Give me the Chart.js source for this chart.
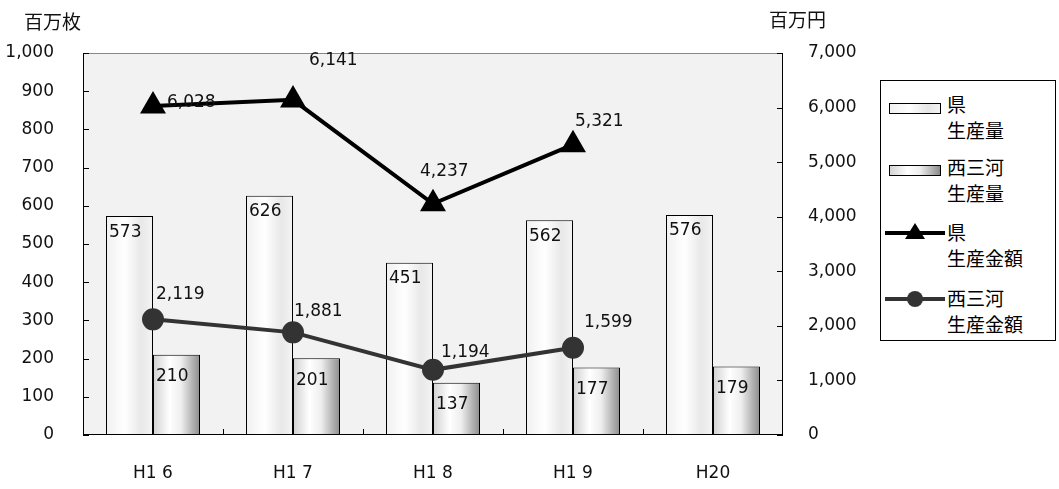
<!DOCTYPE html>
<html>
<head>
    <meta charset="utf-8">
    <title>生産量・生産金額</title>
    <script src="https://cdn.jsdelivr.net/npm/chart.js"></script>
    <style>
        body { margin: 0; background: #fff; }
        #wrap { position: relative; width: 1059px; height: 489px; }
        .ttl { position: absolute; font-family: "Noto Sans CJK JP"; font-size: 19px; color: #111; line-height: 1; }
        #legend { position: absolute; left: 880px; top: 80px; width: 174px; height: 259px;
                  border: 1px solid #000; background: #fff; font-family: "Noto Sans CJK JP"; font-size: 19px; color: #000; }
        .item { position: absolute; left: 66px; line-height: 26px; }
        .sw { position: absolute; left: 8px; width: 50px; height: 9px; border: 1px solid #000; }
        .ln { position: absolute; left: 4px; width: 60px; height: 4px; }
    </style>
</head>
<body>
<div id="wrap">
    <canvas id="chart" width="1059" height="489"></canvas>
    <div class="ttl" style="left:24px; top:11px;">百万枚</div>
    <div class="ttl" style="left:769px; top:9px;">百万円</div>
    <div id="legend">
        <div class="sw" style="top:22px; background:linear-gradient(90deg,#f0f0f0,#fff 40%,#e6e6e6 75%,#f2f2f2);"></div>
        <div class="item" style="top:10px;">県<br>生産量</div>
        <div class="sw" style="top:84px; background:linear-gradient(90deg,#d4d4d4,#fff 35%,#eee 60%,#8a8a8a);"></div>
        <div class="item" style="top:73px;">西三河<br>生産量</div>
        <div class="ln" style="top:150px; background:#000;"></div>
        <svg style="position:absolute; left:24px; top:142px;" width="20" height="16"><polygon points="10,0 20,16 0,16" fill="#000"/></svg>
        <div class="item" style="top:138px;">県<br>生産金額</div>
        <div class="ln" style="top:216px; background:#333;"></div>
        <svg style="position:absolute; left:25px; top:209px;" width="18" height="18"><circle cx="9" cy="9" r="8" fill="#333"/></svg>
        <div class="item" style="top:204px;">西三河<br>生産金額</div>
    </div>
</div>

<script>
// データ
const categories = ['H1 6', 'H1 7', 'H1 8', 'H1 9', 'H20'];
const prefVolume = [573, 626, 451, 562, 576];      // 県 生産量 (百万枚)
const nishiVolume = [210, 201, 137, 177, 179];     // 西三河 生産量 (百万枚)
const prefAmount = [6028, 6141, 4237, 5321, null]; // 県 生産金額 (百万円)
const nishiAmount = [2119, 1881, 1194, 1599, null];// 西三河 生産金額 (百万円)

// ラベルの位置調整 (点からのずれ)
const prefLabelOffsets = [[14, -3], [16, -39], [-13, -32], [2, -23]];
const nishiLabelOffsets = [[3, -25], [1, -21], [8, -17], [11, -25]];

const numFont = '17px "DejaVu Sans"';
const fmt = v => v.toLocaleString('en-US');

// 棒のグラデーション
const barGradient = {
    id: 'barGradient',
    beforeDatasetsDraw(chart) {
        const ctx = chart.ctx;
        chart.data.datasets.forEach((ds, i) => {
            if (ds.type !== 'bar') return;
            chart.getDatasetMeta(i).data.forEach(el => {
                const { x, width } = el.getProps(['x', 'width'], true);
                const g = ctx.createLinearGradient(x - width / 2, 0, x + width / 2, 0);
                ds.gradStops.forEach(s => g.addColorStop(s[0], s[1]));
                el.options = Object.assign({}, el.options, { backgroundColor: g });
            });
        });
    }
};

// 背景・枠・目盛り
const frame = {
    id: 'frame',
    beforeDraw(chart) {
        const { ctx, chartArea: a } = chart;
        ctx.save();
        ctx.fillStyle = '#f2f2f2';
        ctx.fillRect(a.left, a.top, a.right - a.left, a.bottom - a.top);
        ctx.restore();
    },
    afterDatasetsDraw(chart) {
        const { ctx, chartArea: a, scales } = chart;
        ctx.save();
        ctx.lineWidth = 1;
        ctx.strokeStyle = '#888';
        ctx.beginPath();
        ctx.moveTo(a.left, a.top + 0.5); ctx.lineTo(a.right, a.top + 0.5);
        ctx.stroke();
        ctx.strokeStyle = '#000';
        ctx.beginPath();
        ctx.moveTo(a.left + 0.5, a.top); ctx.lineTo(a.left + 0.5, a.bottom);
        ctx.moveTo(a.right - 0.5, a.top); ctx.lineTo(a.right - 0.5, a.bottom);
        ctx.moveTo(a.left, a.bottom - 0.5); ctx.lineTo(a.right, a.bottom - 0.5);
        scales.y.ticks.forEach(t => {
            const y = Math.round(scales.y.getPixelForValue(t.value)) + 0.5;
            ctx.moveTo(a.left, y); ctx.lineTo(a.left + 6, y);
        });
        scales.y2.ticks.forEach(t => {
            const y = Math.round(scales.y2.getPixelForValue(t.value)) + 0.5;
            ctx.moveTo(a.right - 6, y); ctx.lineTo(a.right, y);
        });
        const step = (a.right - a.left) / categories.length;
        for (let i = 1; i < categories.length; i++) {
            const x = Math.round(a.left + step * i) + 0.5;
            ctx.moveTo(x, a.bottom); ctx.lineTo(x, a.bottom - 6);
        }
        ctx.stroke();
        ctx.restore();
    }
};

// 数値ラベル
const valueLabels = {
    id: 'valueLabels',
    afterDatasetsDraw(chart) {
        const ctx = chart.ctx;
        ctx.save();
        ctx.font = numFont;
        ctx.fillStyle = '#111';
        ctx.textAlign = 'left';
        ctx.textBaseline = 'middle';
        chart.data.datasets.forEach((ds, i) => {
            const meta = chart.getDatasetMeta(i);
            meta.data.forEach((el, j) => {
                const v = ds.data[j];
                if (v == null) return;
                if (ds.type === 'bar') {
                    const { x, y, width } = el.getProps(['x', 'y', 'width'], true);
                    ctx.fillText(fmt(v), x - width / 2 + 3, y + ds.labelDy);
                } else {
                    const off = ds.labelOffsets[j];
                    ctx.fillText(fmt(v), el.x + off[0], el.y + off[1]);
                }
            });
        });
        ctx.restore();
    }
};

new Chart(document.getElementById('chart'), {
    data: {
        labels: categories,
        datasets: [
            {
                type: 'line', label: '県生産金額', data: prefAmount, yAxisID: 'y2', order: 0,
                borderColor: '#000', backgroundColor: '#000', borderWidth: 4,
                pointStyle: 'triangle', pointRadius: 11, pointBackgroundColor: '#000', pointBorderColor: '#000',
                tension: 0, labelOffsets: prefLabelOffsets
            },
            {
                type: 'line', label: '西三河生産金額', data: nishiAmount, yAxisID: 'y2', order: 0,
                borderColor: '#333', backgroundColor: '#333', borderWidth: 4,
                pointStyle: 'circle', pointRadius: 9, pointBackgroundColor: '#333', pointBorderColor: '#333',
                tension: 0, labelOffsets: nishiLabelOffsets
            },
            {
                type: 'bar', label: '県生産量', data: prefVolume, yAxisID: 'y', order: 1,
                backgroundColor: '#fafafa', borderColor: '#000', borderWidth: 1,
                barPercentage: 1, categoryPercentage: 0.6714, labelDy: 16,
                gradStops: [[0, '#f0f0f0'], [0.4, '#ffffff'], [0.75, '#e8e8e8'], [1, '#f4f4f4']]
            },
            {
                type: 'bar', label: '西三河生産量', data: nishiVolume, yAxisID: 'y', order: 1,
                backgroundColor: '#ddd', borderColor: '#000', borderWidth: 1,
                barPercentage: 1, categoryPercentage: 0.6714, labelDy: 22,
                gradStops: [[0, '#d0d0d0'], [0.35, '#ffffff'], [0.6, '#eeeeee'], [1, '#8c8c8c']]
            }
        ]
    },
    options: {
        responsive: false,
        animation: false,
        layout: { padding: { left: 0, right: 200, top: 53, bottom: 0 } },
        plugins: { legend: { display: false }, tooltip: { enabled: false } },
        scales: {
            x: {
                grid: { display: false }, border: { display: false },
                ticks: { font: { family: 'DejaVu Sans', size: 17 }, color: '#111', padding: 20, maxRotation: 0 },
                afterFit: s => { s.height = 54; }
            },
            y: {
                position: 'left', min: 0, max: 1000,
                grid: { display: false }, border: { display: false },
                ticks: { stepSize: 100, font: { family: 'DejaVu Sans', size: 17 }, color: '#111', padding: 21,
                         callback: v => fmt(v) },
                afterFit: s => { s.width = 83; }
            },
            y2: {
                position: 'right', min: 0, max: 7000,
                grid: { display: false }, border: { display: false },
                ticks: { stepSize: 1000, font: { family: 'DejaVu Sans', size: 17 }, color: '#111', padding: 17,
                         callback: v => fmt(v) },
                afterFit: s => { s.width = 76; }
            }
        }
    },
    plugins: [barGradient, frame, valueLabels]
});
</script>
</body>
</html>
